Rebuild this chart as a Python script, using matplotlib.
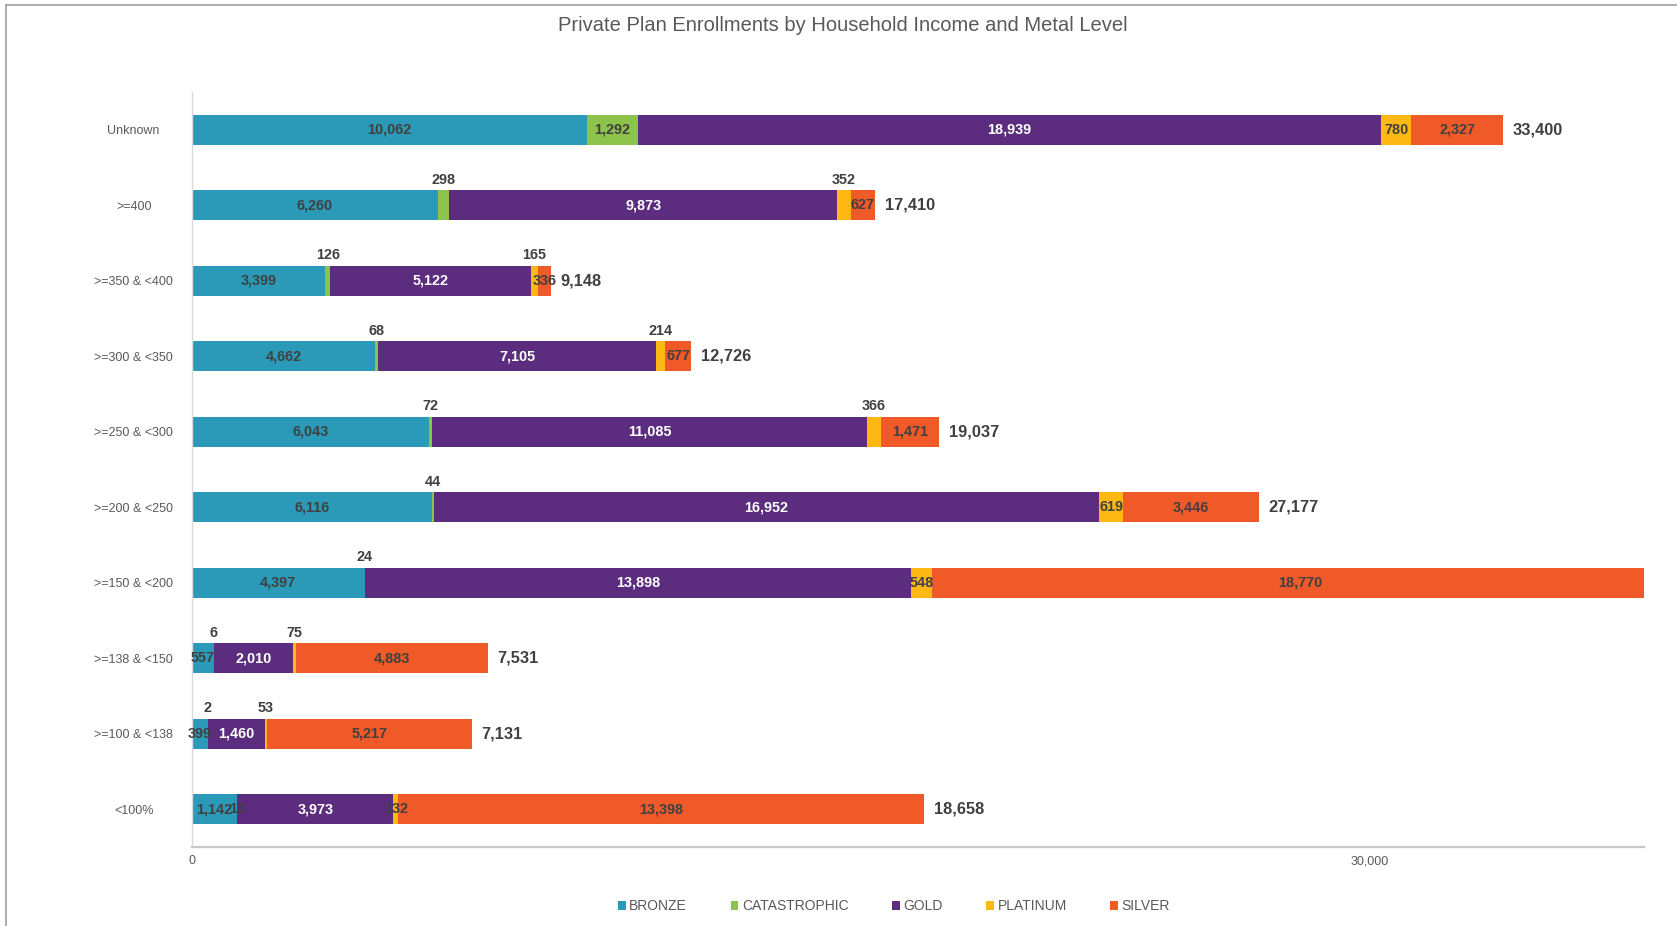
import matplotlib
matplotlib.use("Agg")
import matplotlib.pyplot as plt
from matplotlib.patches import Patch
from matplotlib.lines import Line2D
import numpy as np

plt.rcParams['font.family'] = ['Liberation Sans', 'DejaVu Sans']

# Income groups, listed bottom to top
categories = ["<100%", ">=100 & <138", ">=138 & <150", ">=150 & <200", ">=200 & <250",
              ">=250 & <300", ">=300 & <350", ">=350 & <400", ">=400", "Unknown"]

bronze       = [1142, 399, 557, 4397, 6116, 6043, 4662, 3399, 6260, 10062]
catastrophic = [13, 2, 6, 24, 44, 72, 68, 126, 298, 1292]
gold         = [3973, 1460, 2010, 13898, 16952, 11085, 7105, 5122, 9873, 18939]
platinum     = [132, 53, 75, 548, 619, 366, 214, 165, 352, 780]
silver       = [13398, 5217, 4883, 18770, 3446, 1471, 677, 336, 627, 2327]

series_names = ["BRONZE", "CATASTROPHIC", "GOLD", "PLATINUM", "SILVER"]
series_values = [bronze, catastrophic, gold, platinum, silver]
series_colors = ["#2A9AB8", "#8DC34A", "#5C2D7F", "#FDB813", "#F05A28"]
label_colors = ["#404040", "#404040", "#FFFFFF", "#404040", "#404040"]

# Which small segments carry their label above the bar instead of inside
label_above = {
    "CATASTROPHIC": [False, True, True, True, True, True, True, True, True, False],
    "PLATINUM":     [False, True, True, False, False, True, True, True, True, False],
}

X_MAX = 37000

W, H = 1677, 926
fig = plt.figure(figsize=(W / 100, H / 100), dpi=100)

# plot area in pixel coordinates
left, right, top, bottom = 192, 1644, 92, 847
ax = fig.add_axes([left / W, 1 - bottom / H, (right - left) / W, (bottom - top) / H])

y = np.arange(len(categories))
bar_h = 0.4
cum = np.zeros(len(categories))
for name, vals, col, lcol in zip(series_names, series_values, series_colors, label_colors):
    vals = np.array(vals, dtype=float)
    ax.barh(y, vals, left=cum, height=bar_h, color=col, edgecolor='none', linewidth=0, zorder=2)
    above = label_above.get(name, [False] * len(categories))
    for i, v in enumerate(vals):
        cx = cum[i] + v / 2
        if cx > X_MAX:
            continue
        txt = f"{int(v):,}"
        if above[i]:
            ax.text(cx, y[i] + 0.335, txt, ha='center', va='center', fontsize=10.4,
                    fontweight='bold', color='#404040', zorder=3)
        else:
            ax.text(cx, y[i], txt, ha='center', va='center', fontsize=10.4,
                    fontweight='bold', color=lcol, zorder=3)
    cum += vals

# totals at the end of each bar
for i, tot in enumerate(cum):
    if tot < X_MAX * 0.97:
        ax.annotate(f"{int(tot):,}", xy=(tot, y[i]), xytext=(7, 0), textcoords='offset points',
                    ha='left', va='center', fontsize=11.8, fontweight='bold', color='#404040')

ax.set_xlim(0, X_MAX)
ax.set_ylim(-0.5, len(categories) - 0.5)
ax.set_xticks([0, 30000])
ax.set_xticklabels(["0", "30,000"])
ax.set_yticks(y)
ax.set_yticklabels(categories, ha='center')
ax.tick_params(axis='y', length=0, pad=42, labelsize=9, labelcolor='#595959')
ax.tick_params(axis='x', length=0, pad=6, labelsize=9, labelcolor='#595959')

for s in ['top', 'right']:
    ax.spines[s].set_visible(False)
ax.spines['left'].set_color('#d9d9d9')
ax.spines['left'].set_linewidth(1.0)
ax.spines['bottom'].set_color('#c8c8c8')
ax.spines['bottom'].set_linewidth(1.6)

fig.text(843 / W, 1 - 25.5 / H, "Private Plan Enrollments by Household Income and Metal Level",
         ha='center', va='center', fontsize=14.5, color='#595959')

handles = [Patch(facecolor=c, edgecolor='none') for c in series_colors]
leg = fig.legend(handles, series_names, loc='center', bbox_to_anchor=(894 / W, 1 - 906 / H),
                 ncol=5, frameon=False, fontsize=10, handlelength=0.55, handleheight=0.6,
                 handletextpad=0.25, columnspacing=3.15, borderaxespad=0, borderpad=0)
for t in leg.get_texts():
    t.set_color('#595959')

# outer chart border (top and left edges)
fig.add_artist(Line2D([6 / W, 6 / W], [0, 1 - 4.5 / H], transform=fig.transFigure,
                      color='#a6a6a6', linewidth=1.3))
fig.add_artist(Line2D([6 / W, 1], [1 - 4.5 / H, 1 - 4.5 / H], transform=fig.transFigure,
                      color='#a6a6a6', linewidth=1.3))

fig.savefig("out.png", dpi=100)
